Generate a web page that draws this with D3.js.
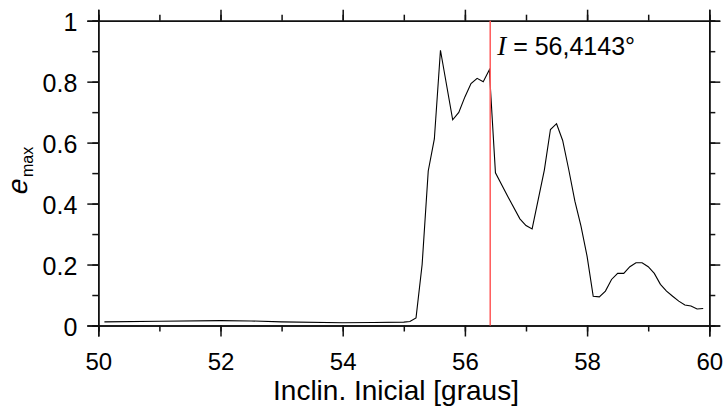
<!DOCTYPE html>
<html>
<head>
<meta charset="utf-8">
<script src="https://cdn.jsdelivr.net/npm/d3@7"></script>
<style>
  body { margin: 0; background: #fff; }
  svg { display: block; font-family: "Liberation Sans", Arial, sans-serif; }
</style>
</head>
<body>
<svg id="chart"></svg>
<script>
// initial inclination (degrees) and maximum eccentricity
var incl = [50.1, 51.0, 52.0, 52.5, 53.0, 54.0, 54.5, 55.0, 55.1, 55.2, 55.3, 55.4, 55.5, 55.6,
            55.8, 55.9, 56.0, 56.1, 56.2, 56.3, 56.4, 56.5, 56.7, 56.9, 57.0, 57.1, 57.3, 57.4,
            57.5, 57.6, 57.7, 57.8, 57.9, 58.0, 58.1, 58.2, 58.3, 58.4, 58.5, 58.6, 58.7, 58.8,
            58.9, 59.0, 59.1, 59.2, 59.3, 59.4, 59.5, 59.6, 59.7, 59.8, 59.9];
var emax = [0.012, 0.014, 0.016, 0.015, 0.012, 0.009, 0.010, 0.011, 0.013, 0.025, 0.20, 0.507, 0.612, 0.903,
            0.675, 0.699, 0.750, 0.794, 0.811, 0.800, 0.839, 0.501, 0.424, 0.350, 0.328, 0.317, 0.510, 0.643,
            0.662, 0.607, 0.511, 0.408, 0.326, 0.227, 0.096, 0.094, 0.113, 0.151, 0.171, 0.171, 0.193, 0.206,
            0.206, 0.193, 0.171, 0.135, 0.113, 0.096, 0.080, 0.067, 0.064, 0.054, 0.056];
var xTicks = [50, 52, 54, 56, 58, 60];
var yTicks = [0, 0.2, 0.4, 0.6, 0.8, 1];
var yTickLabels = ["0", "0.2", "0.4", "0.6", "0.8", "1"];
var markIncl = 56.4143;
var markLabel = "56,4143°";

var W = 727, H = 412;
var margin = {left: 98.3, right: W - 709.3, top: 20.7, bottom: H - 325.5};

var svg = d3.select('#chart').attr('width', W).attr('height', H);

var x = d3.scaleLinear().domain([50, 60]).range([margin.left, W - margin.right]);
var y = d3.scaleLinear().domain([0, 1]).range([H - margin.bottom, margin.top]);

var minorX = d3.range(50, 60.01, 1);
var minorY = d3.range(0, 1.001, 0.1);

function styleAxis(g) {
    g.selectAll('.domain').attr('stroke', '#111').attr('stroke-width', 1.5);
    g.selectAll('.tick line').attr('stroke', '#111').attr('stroke-width', 1.5);
}

// minor ticks (all four sides)
svg.append('g').attr('transform', `translate(0,${y(0)})`)
    .call(d3.axisBottom(x).tickValues(minorX).tickSize(6).tickFormat(''))
    .call(styleAxis);
svg.append('g').attr('transform', `translate(0,${y(1)})`)
    .call(d3.axisTop(x).tickValues(minorX).tickSize(6).tickFormat(''))
    .call(styleAxis);
svg.append('g').attr('transform', `translate(${x(50)},0)`)
    .call(d3.axisLeft(y).tickValues(minorY).tickSize(6).tickFormat(''))
    .call(styleAxis);
svg.append('g').attr('transform', `translate(${x(60)},0)`)
    .call(d3.axisRight(y).tickValues(minorY).tickSize(6).tickFormat(''))
    .call(styleAxis);

// major ticks with labels
var xAxis = svg.append('g').attr('transform', `translate(0,${y(0)})`)
    .call(d3.axisBottom(x).tickValues(xTicks).tickSize(11).tickPadding(16).tickFormat(d3.format('d')))
    .call(styleAxis);
var yAxis = svg.append('g').attr('transform', `translate(${x(50)},0)`)
    .call(d3.axisLeft(y).tickValues(yTicks).tickSize(11).tickPadding(10)
        .tickFormat(function(d, i) { return yTickLabels[i]; }))
    .call(styleAxis);
svg.append('g').attr('transform', `translate(0,${y(1)})`)
    .call(d3.axisTop(x).tickValues(xTicks).tickSize(11).tickFormat(''))
    .call(styleAxis);
svg.append('g').attr('transform', `translate(${x(60)},0)`)
    .call(d3.axisRight(y).tickValues(yTicks).tickSize(11).tickFormat(''))
    .call(styleAxis);

xAxis.selectAll('text').attr('font-size', 24).attr('fill', '#000')
    .attr('font-family', '"Liberation Sans", Arial, sans-serif');
yAxis.selectAll('text').attr('font-size', 25).attr('fill', '#000').attr('dy', '0.4em')
    .attr('font-family', '"Liberation Sans", Arial, sans-serif');

// data line
var data = incl.map(function(d, i) { return [d, emax[i]]; });
svg.append('path')
    .datum(data)
    .attr('fill', 'none')
    .attr('stroke', '#000')
    .attr('stroke-width', 1.1)
    .attr('d', d3.line().x(function(d) { return x(d[0]); }).y(function(d) { return y(d[1]); }));

// marker line
svg.append('line')
    .attr('x1', x(markIncl)).attr('x2', x(markIncl))
    .attr('y1', y(1)).attr('y2', y(0))
    .attr('stroke', '#ff5a5a').attr('stroke-width', 1.5);

var ann = svg.append('text')
    .attr('x', x(markIncl) + 7).attr('y', 55)
    .attr('font-size', 25);
ann.append('tspan').attr('font-family', '"Liberation Serif", "Times New Roman", serif')
    .attr('font-style', 'italic').attr('font-size', 27).text('I');
ann.append('tspan').text(' = ' + markLabel);

// axis titles
svg.append('text')
    .attr('x', 396).attr('y', 400)
    .attr('text-anchor', 'middle').attr('font-size', 28)
    .text('Inclin. Inicial [graus]');

// y title: slanted e with subscript "max", rotated
var yl = svg.append('g').attr('transform', 'translate(27,173) rotate(-90)');
yl.append('text')
    .attr('transform', 'translate(-23,0) skewX(-14)')
    .attr('font-size', 28)
    .text('e');
yl.append('text')
    .attr('x', -4).attr('y', 6)
    .attr('font-size', 16)
    .text('max');
</script>
</body>
</html>
